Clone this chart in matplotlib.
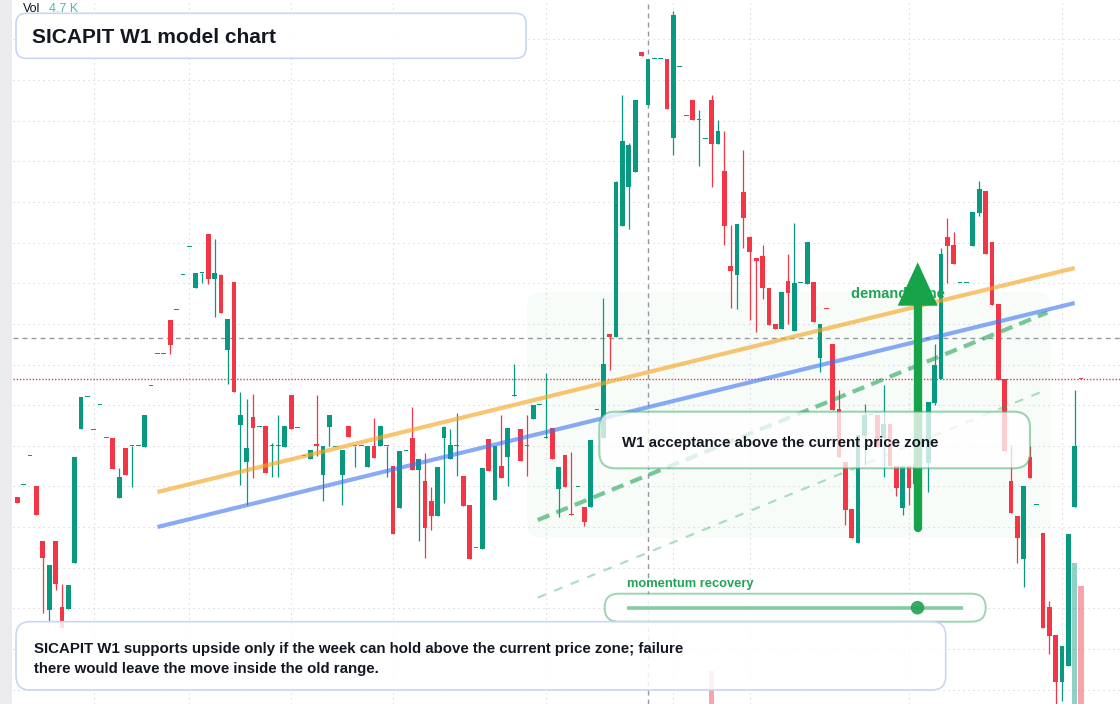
import numpy as np
import matplotlib
matplotlib.use("Agg")
import matplotlib.pyplot as plt
from matplotlib.patches import FancyBboxPatch, Polygon, Circle, Rectangle

plt.rcParams['font.family'] = ['Liberation Sans', 'DejaVu Sans']

# ---------------- data (weekly OHLC, arbitrary price units) ----------------
opens = [20.7, 21.9, 24.8, 21.8, 16.3, 9.4, 16.3, 9.7, 9.5, 14.1,
         27.5, 30.7, 27.4, 29.9, 26.6, 26.6, 20.6, 25.6, 25.8, 25.8,
         25.7, 31.8, 35.0, 35.0, 38.4, 39.4, 42.9, 45.7, 41.6, 43.1,
         47.0, 42.5, 42.9, 35.4, 42.2, 27.9, 24.2, 28.7, 27.7, 27.8,
         25.8, 25.8, 25.7, 30.9, 27.6, 24.8, 24.5, 26.0, 22.9, 27.7,
         25.7, 22.9, 27.8, 25.8, 25.8, 23.7, 25.8, 25.8, 25.8, 23.8,
         19.6, 25.3, 26.6, 23.4, 22.3, 20.3, 18.8, 26.6, 24.5, 25.8,
         22.8, 19.9, 15.6, 15.5, 26.5, 20.4, 23.8, 24.7, 30.8, 27.5,
         25.85, 28.5, 29.9, 26.6, 27.6, 21.5, 24.9, 18.95, 21.7, 19.7,
         19.7, 29.4, 26.6, 37.0, 36.7, 47.8, 51.7, 53.2, 65.2, 59.9,
         64.5, 64.5, 64.5, 56.6, 63.7, 58.8, 60.4, 58.4, 56.5, 60.4,
         56.0, 53.3, 43.8, 42.9, 51.2, 46.7, 44.6, 44.8, 41.6, 38.0,
         37.5, 42.3, 37.3, 42.1, 42.0, 42.2, 34.6, 39.55, 36.0, 29.5,
         24.2, 19.5, 16.1, 26.8, 28.9, 28.9, 26.6, 28.0, 23.8, 19.6,
         23.8, 22.0, 26.0, 24.1, 30.1, 32.5, 46.7, 45.9, 42.1, 42.1,
         45.8, 49.1, 51.3, 46.2, 40.0, 32.5, 22.3, 18.8, 14.5, 24.7,
         19.9, 17.1, 9.7, 6.9, 2.2, 3.8, 19.7, 32.55]
highs = [20.7, 21.9, 24.8, 21.8, 16.3, 13.9, 16.3, 12.0, 11.9, 24.7,
         30.7, 30.7, 27.4, 29.9, 26.6, 26.6, 23.6, 25.6, 25.8, 25.8,
         28.9, 31.8, 35.0, 35.0, 38.4, 39.4, 42.9, 45.7, 43.1, 43.1,
         47.0, 46.5, 43.0, 38.5, 42.2, 31.2, 30.5, 31.0, 27.7, 27.8,
         26.1, 28.9, 27.8, 30.9, 27.6, 24.8, 25.4, 30.9, 25.8, 28.9,
         25.7, 25.4, 27.8, 25.8, 25.8, 25.8, 28.6, 27.8, 25.8, 23.8,
         25.3, 25.3, 29.7, 24.5, 25.1, 21.7, 23.7, 27.8, 27.5, 29.1,
         22.8, 19.9, 15.6, 23.6, 26.5, 25.8, 28.9, 27.6, 34.0, 27.5,
         28.9, 29.9, 29.9, 33.1, 27.6, 23.7, 24.9, 25.2, 21.7, 19.7,
         26.4, 29.4, 40.6, 37.0, 52.3, 60.9, 56.1, 60.4, 65.2, 64.5,
         64.5, 64.5, 64.5, 69.3, 63.7, 58.8, 60.4, 59.4, 56.5, 60.9,
         58.4, 57.3, 47.9, 48.0, 55.4, 46.8, 44.6, 45.9, 41.6, 38.0,
         41.2, 45.0, 48.1, 42.1, 46.2, 42.2, 38.0, 39.55, 36.0, 31.4,
         24.2, 19.5, 26.9, 30.0, 28.9, 28.9, 31.9, 28.0, 23.8, 23.8,
         23.8, 25.0, 26.4, 30.2, 36.0, 45.6, 48.6, 47.2, 42.1, 42.1,
         49.2, 52.3, 51.3, 46.2, 40.0, 32.5, 25.9, 18.8, 21.8, 25.8,
         19.9, 17.1, 10.3, 6.9, 5.8, 17.0, 31.4, 32.55]
lows = [20.1, 21.9, 24.8, 18.9, 9.1, 8.3, 11.4, 7.6, 9.5, 14.1,
        27.5, 30.7, 27.4, 29.9, 26.6, 23.5, 20.6, 22.9, 21.7, 25.8,
        25.7, 31.8, 35.0, 35.0, 35.0, 39.4, 42.9, 45.7, 41.6, 42.1,
        42.0, 38.7, 39.1, 32.0, 31.2, 21.9, 19.9, 22.6, 27.7, 23.1,
        22.7, 22.7, 25.7, 27.5, 27.6, 24.8, 24.5, 24.8, 20.3, 25.8,
        25.7, 19.9, 26.7, 23.7, 25.8, 23.7, 24.6, 25.8, 22.7, 17.0,
        19.6, 25.3, 23.4, 16.3, 14.6, 17.4, 18.8, 20.1, 24.5, 22.8,
        19.8, 14.5, 15.6, 15.5, 23.3, 20.4, 22.6, 21.8, 30.8, 24.3,
        22.8, 28.5, 29.9, 26.6, 24.5, 18.7, 21.7, 18.9, 21.7, 17.8,
        19.7, 29.4, 26.6, 33.4, 36.7, 47.8, 47.5, 53.2, 64.8, 59.9,
        64.5, 64.5, 59.5, 54.9, 63.7, 58.8, 58.4, 53.8, 56.5, 51.7,
        56.0, 45.9, 39.6, 39.5, 45.6, 38.4, 37.2, 40.5, 37.9, 37.5,
        37.5, 38.0, 37.3, 42.1, 42.0, 38.2, 33.2, 39.5, 29.4, 24.7,
        17.9, 16.6, 16.1, 23.9, 28.9, 25.7, 22.7, 23.8, 20.8, 18.9,
        19.9, 20.0, 26.0, 21.2, 29.9, 32.5, 42.1, 44.0, 42.1, 42.1,
        45.8, 48.8, 45.0, 39.9, 32.4, 25.3, 19.1, 14.1, 11.7, 22.6,
        19.9, 7.6, 5.0, -0.6, 0.3, 3.8, 19.7, 32.5]
closes = [20.1, 21.9, 24.8, 18.9, 14.6, 13.9, 12.0, 7.6, 11.9, 24.7,
          30.7, 30.7, 27.4, 29.9, 26.6, 23.5, 22.7, 22.9, 25.8, 25.8,
          28.9, 31.8, 35.0, 35.0, 35.9, 39.4, 42.9, 45.7, 43.1, 43.1,
          42.5, 43.1, 39.1, 38.5, 31.2, 28.9, 25.6, 27.6, 27.7, 23.1,
          25.8, 25.8, 27.8, 27.5, 27.6, 24.8, 25.4, 25.8, 25.8, 28.9,
          25.7, 25.4, 26.7, 25.8, 25.8, 25.8, 24.6, 27.8, 25.8, 17.0,
          25.3, 25.3, 23.4, 24.5, 17.6, 18.8, 23.7, 27.7, 25.9, 25.8,
          19.8, 14.5, 15.6, 23.6, 23.3, 25.8, 22.6, 27.6, 30.8, 24.3,
          25.8, 29.9, 29.9, 26.6, 24.5, 23.7, 21.7, 18.9, 21.7, 18.2,
          26.4, 29.4, 34.0, 36.7, 52.2, 56.3, 55.9, 60.4, 64.8, 64.5,
          64.5, 64.5, 59.5, 68.9, 63.7, 58.8, 58.4, 58.4, 56.5, 56.0,
          57.3, 47.8, 43.3, 48.0, 48.6, 45.2, 44.3, 41.6, 37.9, 37.5,
          41.2, 41.1, 42.1, 42.1, 46.2, 38.2, 38.0, 39.5, 29.4, 24.7,
          19.4, 16.6, 26.9, 28.9, 28.9, 25.7, 28.0, 23.8, 21.6, 23.8,
          21.6, 24.0, 26.4, 30.2, 33.9, 45.0, 45.8, 44.0, 42.1, 42.1,
          49.2, 51.5, 45.0, 39.9, 32.4, 25.3, 19.1, 16.6, 21.8, 22.6,
          19.9, 7.6, 6.8, 2.2, 5.8, 17.0, 25.8, 32.5]

# visible volume bars (week index, volume in K)
vol_weeks = [109, 166, 167]
vol_values = [1.3, 5.6, 4.7]

# trend / channel lines: (start week, end week), (start price, end price)
upper_line = ([22, 166], [21.2, 43.6])
lower_line = ([22, 166], [17.7, 40.1])
channel_hi = ([81.7, 161.7], [18.4, 39.14])
channel_lo = ([81.7, 161.7], [10.64, 31.46])
last_price = 32.5
cross_week, cross_price = 99.06, 36.6
arrow_week, arrow_from, arrow_to = 141.35, 17.65, 44.17
grid_weeks = [12, 27, 43, 59, 83, 103, 115, 140, 164]

TEAL = '#089981'
RED = '#f23645'
GREEN = '#22a355'
INK = '#131722'

# ---------------- figure ----------------
W, H = 1120, 704
X0, DX = 17.3, 6.37
LEFT = 13
fig = plt.figure(figsize=(W / 100, H / 100), dpi=100)
fig.patch.set_facecolor('white')

def pixel_axes(z):
    a = fig.add_axes([0, 0, 1, 1], zorder=z, label=f'px{z}')
    a.set_xlim(0, W)
    a.set_ylim(H, 0)
    a.axis('off')
    a.set_facecolor('none')
    return a

bg = pixel_axes(0)
bg.add_patch(FancyBboxPatch((527, 292), 524, 246,
                            boxstyle='round,pad=0,rounding_size=14',
                            fc='#22c55e', alpha=0.035, ec='none'))

rect = [LEFT / W, 0, (W - LEFT) / W, 1]
ax = fig.add_axes(rect, zorder=1, label='main')
ax.set_facecolor('none')
xlim = ((LEFT - X0) / DX, (W - X0) / DX)
ax.set_xlim(*xlim)
ax.set_ylim(0, 70.4)
ax.axis('off')

# grid
for k in range(17):
    ax.axhline(66.47 - 4.065 * k, color='#cdd0d6', lw=0.8,
               ls=(0, (1, 3.5)), zorder=1)
for g in grid_weeks:
    ax.axvline(g, color='#cdd0d6', lw=0.8, ls=(0, (1, 3.5)), zorder=1)

# crosshair + last price
ax.axhline(cross_price, color='#9598a1', lw=1, ls=(0, (3.5, 3)), zorder=2)
ax.axvline(cross_week, color='#9598a1', lw=1, ls=(0, (3.5, 3)), zorder=2)
ax.axhline(last_price, color=RED, lw=1, ls=(0, (1, 1.3)), zorder=2)

# candles
o = np.array(opens); h = np.array(highs); l = np.array(lows); c = np.array(closes)
idx = np.arange(len(o))
col = np.where(c >= o, TEAL, RED)
ax.vlines(idx, l, h, colors=col, linewidth=0.9, zorder=4)
ax.bar(idx, np.maximum(np.abs(c - o), 0.1), bottom=np.minimum(o, c),
       width=0.74, color=col, linewidth=0, zorder=5)

# trend lines
ax.plot(*upper_line, color='#f5a623', alpha=0.65, lw=3, solid_capstyle='butt', zorder=6)
ax.plot(*lower_line, color='#3b73ef', alpha=0.6, lw=3, solid_capstyle='butt', zorder=6)
ax.plot(*channel_hi, color=GREEN, alpha=0.6, lw=3, ls=(0, (3, 1.8)), zorder=6)
ax.plot(*channel_lo, color=GREEN, alpha=0.35, lw=1.6, ls=(0, (4, 4)), zorder=6)

# demand zone label and arrow
ax.text((851 - X0) / DX, (H - 297.5) / 10, 'demand zone', color=GREEN,
        fontsize=10.5, fontweight='bold', va='baseline', ha='left', zorder=6.5)
head_base = (H - 305.7) / 10
half_w = 20 / DX
ax.plot([arrow_week, arrow_week], [arrow_from, head_base + 0.3], color='#16a34a',
        lw=6, solid_capstyle='round', zorder=7)
ax.add_patch(Polygon([(arrow_week - half_w, head_base), (arrow_week + half_w, head_base),
                      (arrow_week, arrow_to)], closed=True, fc='#16a34a', ec='none', zorder=7))

# volume overlay
vax = fig.add_axes(rect, zorder=2, label='vol')
vax.set_facecolor('none')
vax.set_xlim(*xlim)
vax.set_ylim(0, 28.0)
vax.axis('off')
vcol = [TEAL if closes[i] >= opens[i] else RED for i in vol_weeks]
vax.bar(vol_weeks, vol_values, width=0.85, color=vcol, alpha=0.45, linewidth=0)

# ---------------- overlay annotations ----------------
ov = pixel_axes(3)
ov.add_patch(Rectangle((0, 0), 12, H, fc='#ebebed', ec='none'))

ov.text(23, 12.5, 'Vol', fontsize=9, color=INK, va='baseline')
ov.text(49, 12.5, '4.7 K', fontsize=9, color='#4fb8a6', va='baseline')

ov.add_patch(FancyBboxPatch((16, 13.3), 510, 45, boxstyle='round,pad=0,rounding_size=10',
                            fc=(1, 1, 1, 0.92), ec='#c9d6f2', lw=1.2))
ov.text(32, 43.3, 'SICAPIT W1 model chart', fontsize=15, fontweight='bold',
        color=INK, va='baseline')

green_edge = (34 / 255, 163 / 255, 85 / 255, 0.45)
ov.add_patch(FancyBboxPatch((599.3, 411.7), 430.7, 56.6, boxstyle='round,pad=0,rounding_size=16',
                            fc=(1, 1, 1, 0.76), ec=green_edge, lw=1.5))
ov.text(622, 447, 'W1 acceptance above the current price zone', fontsize=10.8,
        fontweight='bold', color=INK, va='baseline')

ov.text(627, 587, 'momentum recovery', fontsize=9.3, fontweight='bold',
        color=GREEN, va='baseline')
ov.add_patch(FancyBboxPatch((604.6, 593.7), 381.1, 28, boxstyle='round,pad=0,rounding_size=14',
                            fc=(1, 1, 1, 0.85), ec=green_edge, lw=1.4))
ov.plot([627, 963], [607.7, 607.7], color=GREEN, alpha=0.55, lw=2.6, solid_capstyle='butt')
ov.add_patch(Circle((917.5, 607.7), 6.8, fc=GREEN, ec='none', alpha=0.9))

ov.add_patch(FancyBboxPatch((16, 621.7), 929.7, 68.3, boxstyle='round,pad=0,rounding_size=14',
                            fc=(1, 1, 1, 0.85), ec='#c9d6f2', lw=1.2))
ov.text(34, 653.3, 'SICAPIT W1 supports upside only if the week can hold above the current price zone; failure',
        fontsize=10.8, fontweight='bold', color=INK, va='baseline')
ov.text(34, 673.3, 'there would leave the move inside the old range.',
        fontsize=10.8, fontweight='bold', color=INK, va='baseline')

fig.savefig('out.png', dpi=100, facecolor='white')
